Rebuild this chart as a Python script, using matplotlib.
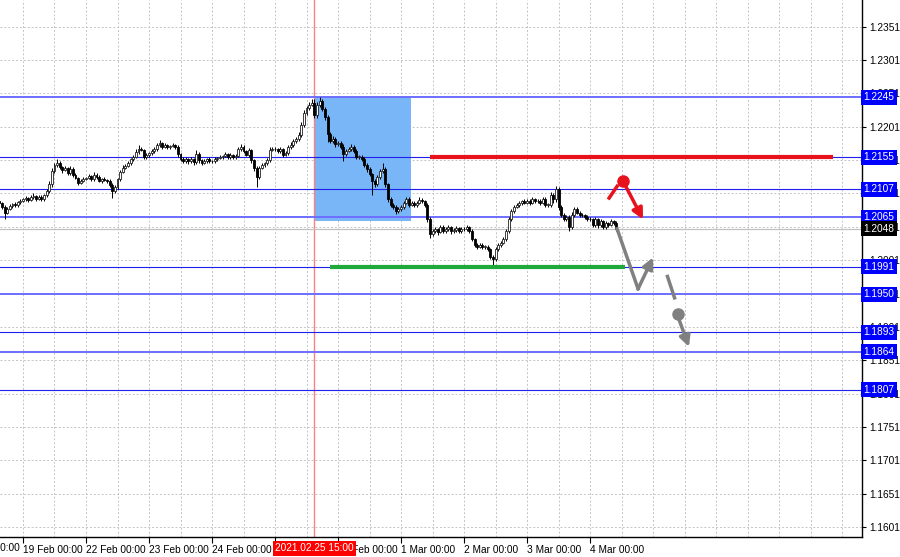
import numpy as np
import matplotlib
matplotlib.use("Agg")
import matplotlib.pyplot as plt
import matplotlib.transforms as mtransforms
from matplotlib.ticker import MultipleLocator

plt.rcParams["font.family"] = ["Liberation Sans", "DejaVu Sans"]

# H1 bars, bar 0 = 19 Feb 00:00 (weekend skipped)
start_bar = -9
first_open = 1.2090
closes = [
    1.2086, 1.2080, 1.2072, 1.2078, 1.2082, 1.2085, 1.2083, 1.2088, 1.2090,
    1.2092, 1.2094, 1.2091, 1.2095, 1.2097, 1.2093, 1.2096, 1.2092,
    1.2098, 1.2105, 1.2115, 1.2134, 1.2143, 1.2146, 1.2140, 1.2136,
    1.2139, 1.2132, 1.2138, 1.2128, 1.2124, 1.2117, 1.2120, 1.2123,
    1.2124, 1.2127, 1.2122, 1.2129, 1.2126, 1.2120, 1.2122, 1.2121,
    1.2120, 1.2113, 1.2104, 1.2110, 1.2122, 1.2133, 1.2139, 1.2142,
    1.2147, 1.2152, 1.2156, 1.2163, 1.2168, 1.2166, 1.2156, 1.2159,
    1.2161, 1.2164, 1.2167, 1.2173, 1.2176, 1.2171, 1.2173, 1.2170,
    1.2172, 1.2173, 1.2171, 1.2160, 1.2152, 1.2149, 1.2152, 1.2149,
    1.2152, 1.2148, 1.2160, 1.2151, 1.2147, 1.2149, 1.2152, 1.2149,
    1.2149, 1.2152, 1.2154, 1.2155, 1.2157, 1.2160, 1.2155, 1.2158,
    1.2155, 1.2157, 1.2167, 1.2170, 1.2164, 1.2159, 1.2166, 1.2151,
    1.2139, 1.2125, 1.2139, 1.2143, 1.2146, 1.2151, 1.2166, 1.2167,
    1.2167, 1.2164, 1.2167, 1.2159, 1.2162, 1.2170, 1.2174, 1.2179,
    1.2182, 1.2189, 1.2204, 1.2222, 1.2229, 1.2234, 1.2237, 1.2219,
    1.2234, 1.2240, 1.2228, 1.2215, 1.2190, 1.2180, 1.2183, 1.2175,
    1.2176, 1.2171, 1.2160, 1.2165, 1.2168, 1.2171, 1.2165, 1.2156,
    1.2156, 1.2152, 1.2144, 1.2137, 1.2130, 1.2119, 1.2115, 1.2125,
    1.2134, 1.2137, 1.2115, 1.2092, 1.2084, 1.2080, 1.2074, 1.2077,
    1.2080, 1.2087, 1.2092, 1.2084, 1.2087, 1.2084, 1.2087, 1.2091,
    1.2089, 1.2084, 1.2062, 1.2040, 1.2044, 1.2047, 1.2043, 1.2050,
    1.2044, 1.2047, 1.2050, 1.2044, 1.2046, 1.2049, 1.2044, 1.2047,
    1.2047, 1.2050, 1.2044, 1.2032, 1.2024, 1.2021, 1.2024, 1.2021,
    1.2021, 1.2017, 1.2006, 1.2002, 1.2017, 1.2024, 1.2027, 1.2032,
    1.2044, 1.2062, 1.2074, 1.2081, 1.2084, 1.2087, 1.2089, 1.2087,
    1.2090, 1.2087, 1.2092, 1.2089, 1.2090, 1.2087, 1.2092, 1.2084,
    1.2084, 1.2099, 1.2092, 1.2107, 1.2080, 1.2069, 1.2062, 1.2065,
    1.2051, 1.2069, 1.2077, 1.2072, 1.2069, 1.2068, 1.2066, 1.2063,
    1.2062, 1.2054, 1.2062, 1.2053, 1.2059, 1.2051, 1.2056, 1.2054, 1.2059, 1.2056, 1.2048,
]
# wick sizes in pips above max(open, close) / below min(open, close)
wick_up = [
    3, 2, 4, 2, 3, 2, 3, 2, 2,
    2, 3, 2, 3, 4, 2, 3, 2,
    2, 3, 4, 5, 4, 6, 3, 2,
    3, 2, 4, 2, 3, 2, 3, 2,
    2, 3, 2, 4, 3, 2, 2, 3,
    2, 2, 3, 3, 2, 3, 4, 3,
    3, 2, 3, 4, 5, 3, 2, 3,
    2, 3, 3, 3, 5, 2, 3, 2,
    2, 3, 2, 3, 2, 3, 3, 2,
    3, 2, 6, 3, 2, 3, 2, 3,
    2, 3, 2, 3, 2, 3, 2, 3,
    2, 3, 4, 5, 3, 2, 3, 2,
    2, 3, 3, 3, 2, 3, 4, 3,
    3, 2, 3, 2, 3, 3, 4, 3,
    3, 4, 4, 4, 3, 4, 5, 6,
    4, 5, 3, 3, 3, 3, 4, 3,
    3, 3, 4, 3, 3, 4, 3, 2,
    3, 2, 3, 2, 3, 2, 3, 4,
    3, 10, 3, 2, 3, 2, 3, 3,
    3, 3, 4, 3, 2, 3, 2, 4,
    3, 2, 2, 3, 3, 3, 2, 4,
    3, 3, 3, 2, 3, 3, 2, 3,
    3, 3, 2, 3, 2, 3, 3, 2,
    2, 3, 2, 3, 3, 3, 2, 3,
    3, 3, 4, 3, 3, 3, 2, 3,
    3, 2, 3, 2, 3, 2, 3, 3,
    2, 4, 3, 5, 3, 3, 2, 3,
    3, 4, 3, 3, 2, 3, 2, 3,
    3, 2, 3, 2, 3, 2, 3, 2, 3, 2, 3,
]
wick_dn = [
    2, 3, 10, 2, 2, 3, 2, 2, 3,
    2, 2, 3, 2, 2, 3, 2, 3,
    3, 2, 3, 4, 3, 2, 3, 4,
    2, 4, 3, 3, 2, 4, 2, 2,
    2, 2, 3, 2, 3, 2, 3, 2,
    3, 3, 10, 3, 2, 3, 2, 2,
    2, 3, 3, 2, 3, 2, 4, 3,
    3, 2, 2, 3, 2, 3, 2, 3,
    2, 2, 3, 4, 3, 3, 2, 4,
    3, 4, 3, 4, 3, 2, 3, 2,
    2, 3, 2, 2, 3, 2, 3, 2,
    3, 2, 2, 3, 3, 2, 3, 4,
    5, 15, 3, 2, 3, 2, 3, 2,
    2, 3, 2, 3, 2, 3, 2, 3,
    3, 2, 3, 3, 3, 3, 2, 5,
    5, 4, 3, 4, 12, 3, 3, 4,
    3, 3, 10, 3, 2, 3, 3, 4,
    3, 3, 3, 4, 3, 20, 4, 3,
    3, 3, 4, 4, 3, 3, 4, 3,
    3, 3, 2, 3, 2, 3, 3, 2,
    3, 3, 4, 6, 3, 2, 4, 2,
    3, 2, 3, 4, 2, 3, 3, 2,
    2, 3, 3, 3, 4, 3, 2, 3,
    3, 3, 3, 8, 3, 2, 3, 2,
    3, 2, 3, 3, 2, 3, 3, 2,
    2, 3, 2, 3, 2, 3, 2, 3,
    3, 3, 5, 4, 4, 3, 3, 3,
    7, 3, 3, 2, 3, 2, 3, 3,
    3, 4, 3, 4, 3, 4, 3, 3, 2, 3, 3,
]

day_bars = [0, 24, 48, 72, 96, 120, 144, 168, 192, 216]
day_labels = ["19 Feb 00:00", "22 Feb 00:00", "23 Feb 00:00",
              "24 Feb 00:00", "25 Feb 00:00", "26 Feb 00:00", "1 Mar 00:00",
              "2 Mar 00:00", "3 Mar 00:00", "4 Mar 00:00"]
prev_day_bar = -24
prev_day_label = "18 Feb 00:00"
price_ticks = [1.1601, 1.1651, 1.1701, 1.1751, 1.1801, 1.1851, 1.1901, 1.1951,
               1.2001, 1.2051, 1.2101, 1.2151, 1.2201, 1.2251, 1.2301, 1.2351]

levels_dark = [1.2155, 1.2107, 1.1991, 1.1893, 1.1807]
levels_light = [1.2245, 1.2065, 1.1950, 1.1864]
last_price = 1.2048

marker_bar = 111
marker_label = "2021.02.25 15:00"
box_bars = (111, 147.8)
box_prices = (1.2060, 1.2245)
red_level = (1.2155, 155, 308.6)
green_level = (1.1991, 117, 229.3)

# forecast sketches (bar, price)
red_leg = ([222.9, 226.7], [1.2092, 1.2114])
red_dot = (228.6, 1.2120)
red_arrow = ((229.7, 1.2111), (236.2, 1.2062))
gray_leg = ([226.3, 234.3], [1.2048, 1.1958])
gray_arrow1 = ((234.3, 1.1958), (240.0, 1.2005))
gray_dash = ([245.3, 248.4], [1.1979, 1.1942])
gray_dot = (249.5, 1.1921)
gray_arrow2 = ((249.9, 1.1912), (253.7, 1.1871))

n = min(len(closes), len(wick_up), len(wick_dn))
closes = np.array(closes[:n])
opens = np.concatenate([[first_open], closes[:-1]])
highs = np.maximum(opens, closes) + np.array(wick_up[:n]) * 0.0001
lows = np.minimum(opens, closes) - np.array(wick_dn[:n]) * 0.0001
bars = np.arange(start_bar, start_bar + n)

fig = plt.figure(figsize=(9, 5.57), dpi=100)
ax = fig.add_axes([0, 20 / 557, 862 / 900, 537 / 557])

# selection box and markers
ax.add_patch(plt.Rectangle((box_bars[0], box_prices[0]), box_bars[1] - box_bars[0],
                           box_prices[1] - box_prices[0], facecolor="#78b6f7",
                           edgecolor="none", zorder=1))
ax.axvline(marker_bar, color="#ff8080", linewidth=1, zorder=1.5)

for lv in levels_dark:
    ax.axhline(lv, color="#2020ee", linewidth=0.8, zorder=2)
for lv in levels_light:
    ax.axhline(lv, color="#6e6eff", linewidth=1.4, zorder=2)
ax.axhline(last_price, color="#c0c0c0", linewidth=0.9, zorder=2)

# candles
up = closes >= opens
ax.vlines(bars, lows, highs, color="black", linewidth=0.7, zorder=3)
body = np.maximum(np.abs(closes - opens), 0.00008)
ax.bar(bars[up], body[up], bottom=np.minimum(opens, closes)[up], width=0.75,
       color="white", edgecolor="#202020", linewidth=0.6, zorder=4)
ax.bar(bars[~up], body[~up], bottom=np.minimum(opens, closes)[~up], width=0.75,
       color="black", edgecolor="black", linewidth=0.6, zorder=4)

# trade levels
ax.hlines(red_level[0], red_level[1], red_level[2], color="#e8121c", linewidth=3, zorder=5)
ax.hlines(green_level[0], green_level[1], green_level[2], color="#20aa3c", linewidth=3, zorder=5)

red = "#e8121c"
gray = "#808080"
ax.plot(*red_leg, color=red, linewidth=2.5, solid_capstyle="butt", zorder=6)
ax.plot(*red_dot, "o", color=red, markersize=8, zorder=6)
ax.annotate("", xy=red_arrow[1], xytext=red_arrow[0],
            arrowprops=dict(arrowstyle="-|>", color=red, lw=2.5, mutation_scale=16, shrinkA=0, shrinkB=0),
            zorder=6)
ax.plot(*gray_leg, color=gray, linewidth=2.5, zorder=6)
ax.annotate("", xy=gray_arrow1[1], xytext=gray_arrow1[0],
            arrowprops=dict(arrowstyle="-|>", color=gray, lw=2.5, mutation_scale=16, shrinkA=0, shrinkB=0),
            zorder=6)
ax.plot(*gray_dash, color=gray, linewidth=2.5, solid_capstyle="butt", zorder=6)
ax.plot(*gray_dot, "o", color=gray, markersize=8, zorder=6)
ax.annotate("", xy=gray_arrow2[1], xytext=gray_arrow2[0],
            arrowprops=dict(arrowstyle="-|>", color=gray, lw=2.5, mutation_scale=16, shrinkA=0, shrinkB=0),
            zorder=6)

# axes styling
for s in ["left", "top"]:
    ax.spines[s].set_visible(False)
for s in ["right", "bottom"]:
    ax.spines[s].set_color("black")
    ax.spines[s].set_linewidth(1)

ax.yaxis.tick_right()
ax.set_yticks(price_ticks)
ax.set_yticklabels(["%.4f" % v for v in price_ticks])
ax.tick_params(axis="y", which="major", length=3, labelsize=7.3, pad=2, colors="black")

ax.set_xticks(day_bars)
ax.set_xticklabels(day_labels, ha="left")
ax.tick_params(axis="x", which="major", length=4, labelsize=7.3, pad=2)
ax.tick_params(axis="x", which="minor", length=0)

ax.set_xlim(-8.76, 319.6)
ax.set_ylim(1.1586, 1.2391)

# grid
ax.xaxis.set_minor_locator(MultipleLocator(12))
ax.grid(which="both", axis="x", color="#c4c4c4", linestyle=(0, (2, 2)), linewidth=0.7, zorder=0)
ax.grid(which="major", axis="y", color="#c4c4c4", linestyle=(0, (2, 2)), linewidth=0.7, zorder=0)
ax.set_axisbelow(True)

# partly visible label of the previous day
trans_x = mtransforms.blended_transform_factory(ax.transData, ax.transAxes)
ax.text(prev_day_bar, -0.0115, prev_day_label, transform=trans_x, ha="left", va="top",
        fontsize=7.3, clip_on=False)

# price labels on the right scale
trans = mtransforms.blended_transform_factory(ax.transAxes, ax.transData)
for lv in levels_dark + levels_light:
    ax.text(1.002, lv, "%.4f" % lv, transform=trans, ha="left", va="center",
            color="white", fontsize=7.3, clip_on=False, zorder=10,
            bbox=dict(boxstyle="square,pad=0.25", fc="#0000ff", ec="none"))
ax.text(1.002, last_price, "%.4f" % last_price, transform=trans, ha="left", va="center",
        color="white", fontsize=7.3, clip_on=False, zorder=10,
        bbox=dict(boxstyle="square,pad=0.25", fc="black", ec="none"))

# time marker label
ax.text(marker_bar, -0.021, marker_label, transform=trans_x, ha="center", va="center",
        color="white", fontsize=7.3, clip_on=False, zorder=10,
        bbox=dict(boxstyle="square,pad=0.25", fc="#ff0000", ec="none"))

fig.savefig("out.png", dpi=100, facecolor="white")
plt.close()
